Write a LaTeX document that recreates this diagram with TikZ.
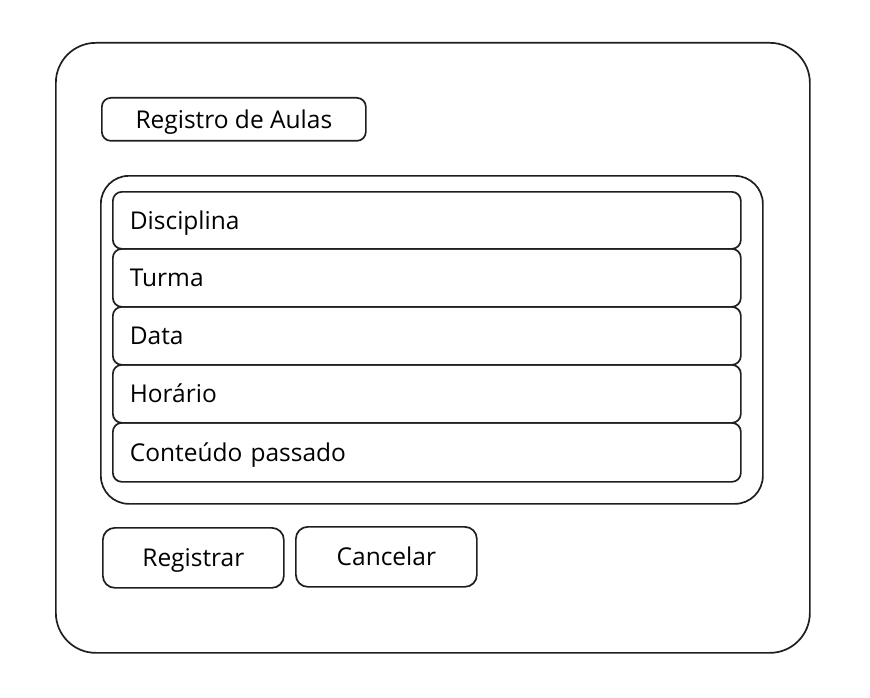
\documentclass[tikz,border=0pt]{standalone}
\usepackage{fontspec}
\setmainfont{Open Sans}
\begin{document}
\begin{tikzpicture}[x=1pt,y=-1pt,
  sk/.style={draw=black!88, line width=1.7pt, line join=round},
  txt/.style={font=\fontsize{24.5}{28}\selectfont, text height=18pt, text depth=0pt, inner ysep=0pt},
  fieldbox/.style={sk, txt, rounded corners=9pt, anchor=north west, text width=594pt, inner xsep=17pt, minimum height=#1, align=left},
  btn/.style={sk, txt, rounded corners=12pt, anchor=north west, minimum width=181pt, minimum height=60pt}
]
\useasboundingbox[fill=white] (0,0) rectangle (870,698);
\node[sk, rounded corners=40pt, anchor=north west, minimum width=754pt, minimum height=610pt] (frame) at (55,42) {};
\node[sk, txt, rounded corners=9pt, anchor=north west, minimum width=264pt, minimum height=43pt] (title) at (101,97) {Registro de Aulas};
\node[sk, rounded corners=28pt, anchor=north west, minimum width=662pt, minimum height=328pt] (group) at (100,175) {};
\node[fieldbox=57pt] (f1) at (112,191) {Disciplina};
\node[fieldbox=58pt] (f2) at (112,248) {Turma};
\node[fieldbox=58pt] (f3) at (112,306) {Data};
\node[fieldbox=58pt] (f4) at (112,364) {Horário};
\node[fieldbox=59pt] (f5) at (112,422) {Conteúdo passado};
\node[btn] (reg) at (102,527) {Registrar};
\node[btn] (can) at (295,526) {Cancelar};
\end{tikzpicture}
\end{document}
